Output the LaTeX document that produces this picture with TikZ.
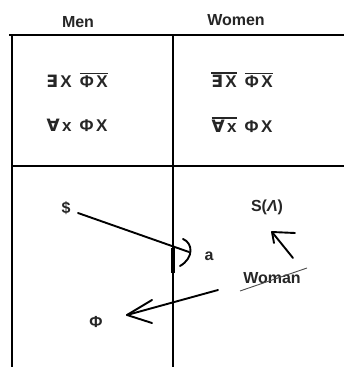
\documentclass[tikz,border=0pt]{standalone}
\usepackage{fontspec}
\setmainfont{Liberation Sans}
\newfontfamily\symf{DejaVu Sans}
\newcommand\ovl[1]{\leavevmode\vbox{\hrule height 1.3pt\kern 1.6pt\hbox{#1}}}
\newcommand\EX{{\symf\bfseries ∃}}
\newcommand\AX{{\symf\bfseries ∀}}
\newcommand\ls{\hspace{2.5pt}}
\newcommand\gp{\hspace{8pt}}
\tikzset{
  grid/.style={line width=2.3pt, line cap=rect},
  lbl/.style={font=\bfseries\fontsize{16pt}{18pt}\selectfont, inner sep=0pt, text=black!85},
  frm/.style={font=\bfseries\fontsize{17pt}{19pt}\selectfont, inner sep=0pt, text=black!85},
  arr/.style={line width=1.9pt, line cap=round, line join=round},
}
\begin{document}
\begin{tikzpicture}[x=1pt,y=-1pt]
\useasboundingbox (0,0) rectangle (344,367);
\fill[white] (0,0) rectangle (344,367);
% grid
\draw[grid] (10,35) -- (344,35);
\draw[grid] (12,35) -- (12,367);
\draw[grid] (173,35) -- (173,367);
\draw[grid] (12,166) -- (344,166);
% headers
\node[lbl] (men) at (78,22) {Men};
\node[lbl] (women) at (236,20) {Women};
% formulas
\node[frm] (f1) at (77,80) {\EX\ls X\gp\ovl{Φ\ls X}};
\node[frm] (f2) at (77,125) {\AX\ls x\gp Φ\ls X};
\node[frm] (f3) at (242,80) {\ovl{\EX\ls X}\gp\ovl{Φ\ls X}};
\node[frm] (f4) at (242,125) {\ovl{\AX\ls x}\gp Φ\ls X};
% lower cells
\node[lbl] (dollar) at (66,208) {\$};
\node[lbl] (S) at (267,207) {S(\textit{Λ})};
\node[lbl] (a) at (209,256) {a};
\node[lbl] (woman) at (272,278) {Woman};
\node[lbl] (phi) at (96,322) {Φ};
% connector $ -> a
\coordinate (d1) at (78,213);
\coordinate (d2) at (189,252);
\draw[arr] (d1) -- (d2);
\draw[arr] (183,239) .. controls (193,243) and (194,258) .. (180,266);
\draw[line width=3.8pt] (173,248) -- (173,273);
% connector Woman -> Phi
\coordinate (w1) at (218,290);
\coordinate (p1) at (127,315);
\draw[arr] (w1) -- (p1);
\draw[arr] (152,300) -- (p1) -- (152,323);
% connector Woman -> S
\coordinate (w2) at (293,258);
\coordinate (s1) at (272,232);
\draw[arr] (w2) -- (s1);
\draw[arr] (295,233) -- (s1) -- (274,243);
% bar through Woman
\draw[line width=0.9pt, black!70] (240,291) -- (307,268);
\end{tikzpicture}
\end{document}
